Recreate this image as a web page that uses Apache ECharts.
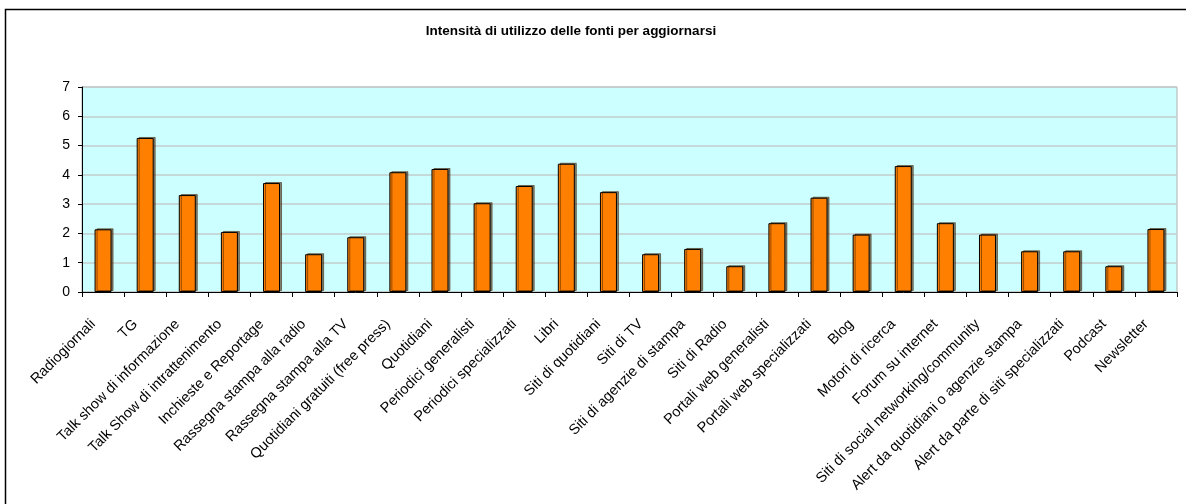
<!DOCTYPE html>
<html>
<head>
<meta charset="utf-8">
<script src="https://cdn.jsdelivr.net/npm/echarts@6/dist/echarts.min.js"></script>
<style>
html,body{margin:0;padding:0;background:#fff;}
#c{width:1186px;height:504px;}
</style>
</head>
<body>
<div id="c"></div>
<script>
const chartTitle = "Intensità di utilizzo delle fonti per aggiornarsi";
const categories = [
  "Radiogiornali","TG","Talk show di informazione","Talk Show di intrattenimento",
  "Inchieste e Reportage","Rassegna stampa alla radio","Rassegna stampa alla TV",
  "Quotidiani gratuiti (free press)","Quotidiani","Periodici generalisti",
  "Periodici specializzati","Libri","Siti di quotidiani","Siti di TV",
  "Siti di agenzie di stampa","Siti di Radio","Portali web generalisti",
  "Portali web specializzati","Blog","Motori di ricerca","Forum su internet",
  "Siti di social networking/community","Alert da quotidiani o agenzie stampa",
  "Alert da parte di siti specializzati","Podcast","Newsletter"
];
const values = [
  2.14, 5.26, 3.31, 2.05, 3.72, 1.29, 1.87,
  4.09, 4.20, 3.03, 3.62, 4.38, 3.41, 1.29,
  1.47, 0.88, 2.35, 3.22, 1.96, 4.30, 2.35,
  1.96, 1.39, 1.39, 0.88, 2.15
];
const yMin = 0, yMax = 7, yStep = 1;

const chart = echarts.init(document.getElementById('c'), null, {renderer:'canvas'});
chart.setOption({
  animation:false,
  backgroundColor:'#ffffff',
  graphic:[
    {type:'rect', z:-10, shape:{x:5.5, y:9.5, width:1200, height:520},
     style:{fill:'#ffffff', stroke:'#000000', lineWidth:1.5}},
    {type:'text', z:10, style:{text:chartTitle, x:571, y:31, align:'center', verticalAlign:'middle',
      font:'bold 13.5px "Liberation Sans", Arial', fill:'#000'}}
  ],
  grid:{left:82, right:9, top:87, bottom:212, show:true, backgroundColor:'#CCFFFF',
        borderColor:'#B0B0B0', borderWidth:1},
  xAxis:{
    type:'category', data:categories, boundaryGap:true,
    axisLine:{lineStyle:{color:'#000', width:1}},
    axisTick:{show:true, alignWithLabel:false, length:5, lineStyle:{color:'#000'}},
    axisLabel:{rotate:45, interval:0, margin:20, color:'#000', fontSize:14.5,
      fontFamily:'"Liberation Sans", Arial', padding:[0,14,0,0]},
    splitLine:{show:false}
  },
  yAxis:{
    type:'value', min:yMin, max:yMax, interval:yStep,
    axisLine:{show:true, lineStyle:{color:'#000', width:1}},
    axisTick:{show:true, length:4, lineStyle:{color:'#000'}},
    axisLabel:{color:'#000', fontSize:14, margin:12, fontFamily:'"Liberation Sans", Arial'},
    splitLine:{show:true, lineStyle:{color:'#C4CCCC', width:1.5}}
  },
  series:[{
    type:'bar', data:values, barWidth:17,
    itemStyle:{color:'#FF8000', borderColor:'#000', borderWidth:1,
      shadowColor:'rgba(60,30,0,0.55)', shadowOffsetX:2, shadowOffsetY:-1, shadowBlur:0}
  }]
});
</script>
</body>
</html>
